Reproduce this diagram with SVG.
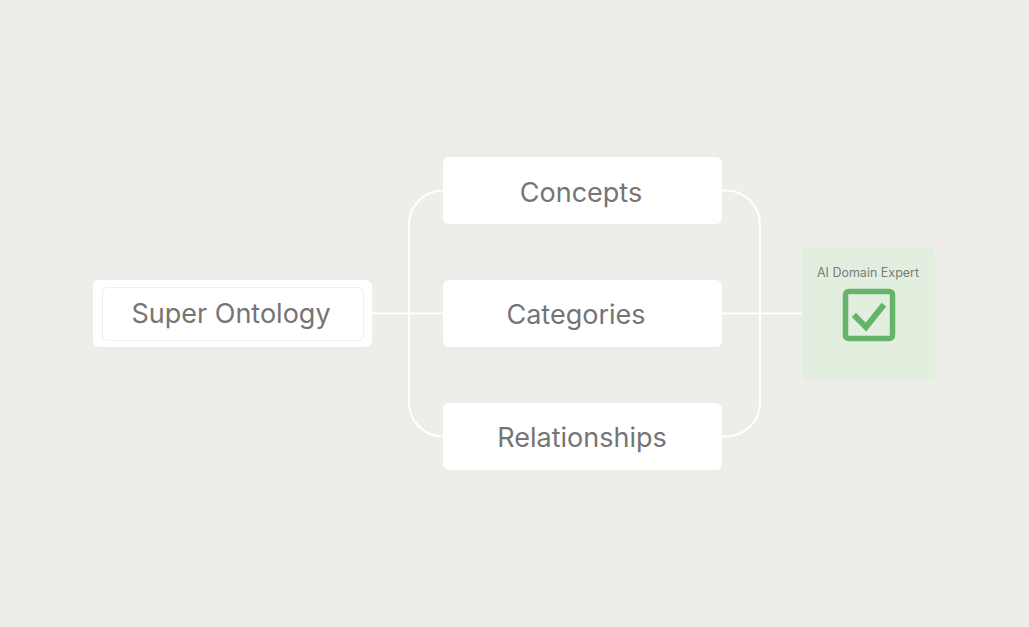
<svg xmlns="http://www.w3.org/2000/svg" width="1029" height="627" viewBox="0 0 1029 627">
<style>
.box{fill:#ffffff}
.lbl{font-family:Inter,"Open Sans","Liberation Sans",sans-serif;font-size:27px;fill:#757575;text-anchor:middle}
.small{font-family:Inter,"Open Sans","Liberation Sans",sans-serif;font-size:12.5px;fill:#7a7a7a;text-anchor:middle}
.conn{fill:none;stroke:#ffffff;stroke-width:2}
</style>
<rect width="1029" height="627" fill="#EFEDE9"/>
<g id="connectors">
<path class="conn" d="M372 313.5 H443"/>
<path class="conn" d="M722 313.5 H802"/>
<path class="conn" d="M443 190.5 A34 34 0 0 0 409 224.5 V402.5 A34 34 0 0 0 443 436.5"/>
<path class="conn" d="M722 190.5 H726 A34 34 0 0 1 760 224.5 V402.5 A34 34 0 0 1 726 436.5 H722"/>
</g>
<g id="super-ontology">
<rect class="box" x="93" y="280" width="279" height="67" rx="6"/>
<rect x="102.5" y="287.5" width="261" height="53" rx="5" fill="#ffffff" stroke="#EEEEEE" stroke-width="1"/>
<text class="lbl" x="231" y="323">Super Ontology</text>
</g>
<g id="concepts">
<rect class="box" x="443" y="157" width="279" height="67" rx="6"/>
<text class="lbl" x="581" y="201.5">Concepts</text>
</g>
<g id="categories">
<rect class="box" x="443" y="280" width="279" height="67" rx="6"/>
<text class="lbl" x="576" y="324">Categories</text>
</g>
<g id="relationships">
<rect class="box" x="443" y="403" width="279" height="67" rx="6"/>
<text class="lbl" x="582" y="446.5">Relationships</text>
</g>
<g id="ai-domain-expert">
<rect x="802" y="247" width="133" height="133" rx="5" fill="#E2EFDF"/>
<text class="small" x="868" y="276.5">AI Domain Expert</text>
<rect x="845.5" y="291.5" width="47" height="47" rx="3" fill="none" stroke="#66B36A" stroke-width="5.5"/>
<path d="M856 317 L866 327 L882 307" fill="none" stroke="#66B36A" stroke-width="6" stroke-linecap="square"/>
</g>
</svg>
